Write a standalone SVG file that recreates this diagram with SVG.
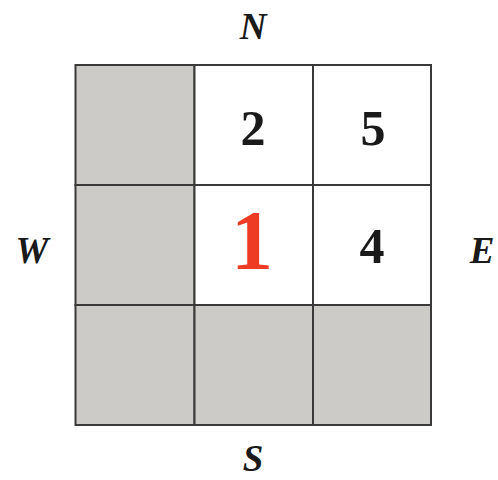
<svg xmlns="http://www.w3.org/2000/svg" width="498" height="480" viewBox="0 0 498 480">
<style>
.cell{stroke:#3a3a3a;stroke-width:2}
.shade{fill:#cdcbc8}
.open{fill:#ffffff}
.dir{font-family:"Liberation Serif",serif;font-style:italic;font-weight:bold;font-size:37px;fill:#1a1a1a;text-anchor:middle}
.num{font-family:"Liberation Serif",serif;font-weight:bold;font-size:50px;fill:#1a1a1a;text-anchor:middle}
.start{font-family:"Liberation Serif",serif;font-weight:bold;font-size:84px;fill:#ee3b24;text-anchor:middle}
</style>
<rect width="498" height="480" fill="#ffffff"/>
<g id="cells">
<g id="c00"><rect class="cell shade" x="75.5" y="65" width="119" height="120"/></g>
<g id="c01"><rect class="cell open" x="194.5" y="65" width="118.5" height="120"/><text class="num" x="253" y="145">2</text></g>
<g id="c02"><rect class="cell open" x="313" y="65" width="118" height="120"/><text class="num" x="373" y="145">5</text></g>
<g id="c10"><rect class="cell shade" x="75.5" y="185" width="119" height="120"/></g>
<g id="c11"><rect class="cell open" x="194.5" y="185" width="118.5" height="120"/><text class="start" x="252" y="269">1</text></g>
<g id="c12"><rect class="cell open" x="313" y="185" width="118" height="120"/><text class="num" x="372" y="263">4</text></g>
<g id="c20"><rect class="cell shade" x="75.5" y="305" width="119" height="120"/></g>
<g id="c21"><rect class="cell shade" x="194.5" y="305" width="118.5" height="120"/></g>
<g id="c22"><rect class="cell shade" x="313" y="305" width="118" height="120"/></g>
</g>
<g id="labels">
<text class="dir" x="253" y="39">N</text>
<text class="dir" x="32" y="263">W</text>
<text class="dir" x="482" y="263">E</text>
<text class="dir" x="253" y="471">S</text>
</g>
<g id="connectors"></g>
</svg>
